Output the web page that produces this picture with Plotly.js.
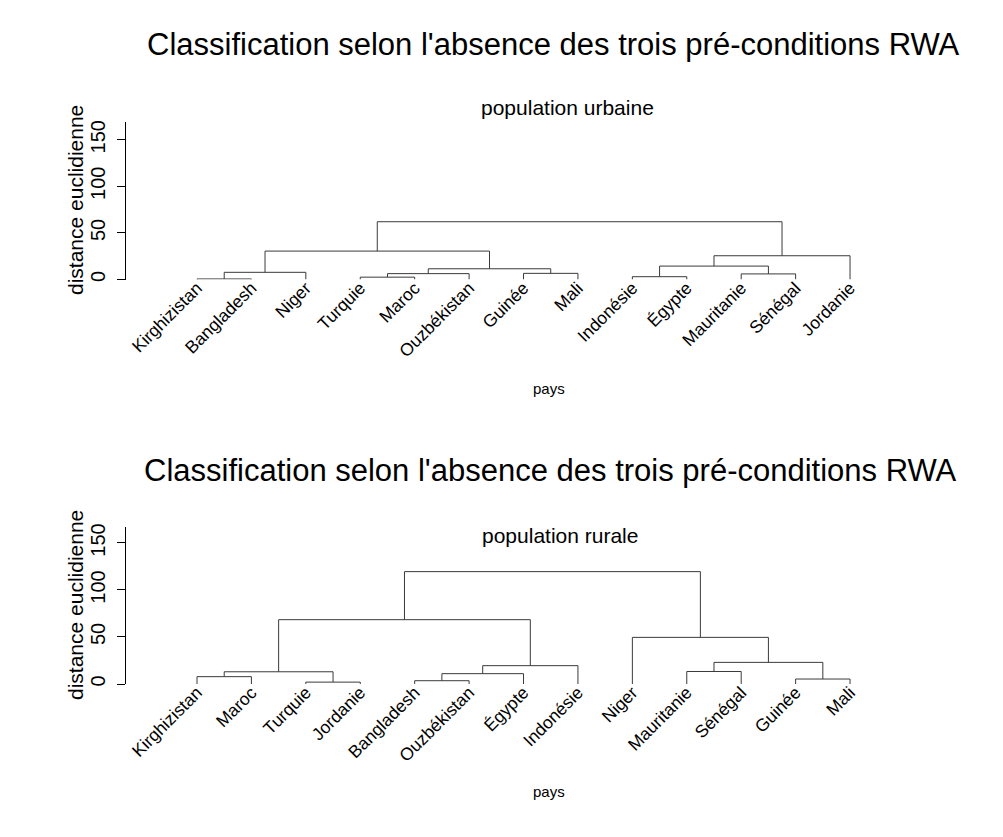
<!DOCTYPE html>
<html>
<head>
<meta charset="utf-8">
<script src="https://cdn.plot.ly/plotly-3.0.1.min.js"></script>
<style>html,body{margin:0;padding:0;background:#fff;}#chart{width:1003px;height:837px;}</style>
</head>
<body>
<div id="chart"></div>
<script>
// ---- Data (leaf order as drawn) ----
const urbanLabels = ["Kirghizistan","Bangladesh","Niger","Turquie","Maroc","Ouzbékistan","Guinée","Mali","Indonésie","Égypte","Mauritanie","Sénégal","Jordanie"];
// hclust-style merges: negative = leaf (1-based position), positive = earlier merge row
const urbanMerge = [[-1,-2],[-4,-5],[-9,-10],[-11,-12],[2,-6],[-7,-8],[1,-3],[5,6],[3,4],[9,-13],[7,8],[11,10]];
const urbanHeight = [0.6, 2.5, 3, 6, 6.3, 6.6, 7.7, 11.5, 14.4, 25.5, 30.5, 62];

const ruralLabels = ["Kirghizistan","Maroc","Turquie","Jordanie","Bangladesh","Ouzbékistan","Égypte","Indonésie","Niger","Mauritanie","Sénégal","Guinée","Mali"];
const ruralMerge = [[-3,-4],[-5,-6],[-12,-13],[-1,-2],[2,-7],[4,1],[-10,-11],[5,-8],[7,3],[-9,9],[6,8],[11,10]];
const ruralHeight = [2, 3.5, 5.3, 7.8, 11, 13, 13.3, 19.5, 23, 49.6, 68.4, 119.5];

const yTicks = [0, 50, 100, 150];
const mainTitle = "Classification selon l'absence des trois pré-conditions RWA";
const subUrban = "population urbaine";
const subRural = "population rurale";
const yTitle = "distance euclidienne";
const xTitle = "pays";

// ---- Build dendrogram segments ----
function dendro(merge, height) {
  const pos = [], hh = [], xs = [], ys = [];
  const coord = r => r < 0 ? [-r, 0] : [pos[r-1], hh[r-1]];
  merge.forEach((m, k) => {
    const [xa, ya] = coord(m[0]);
    const [xb, yb] = coord(m[1]);
    const H = height[k];
    xs.push(xa, xa, xb, xb, null);
    ys.push(ya, H, H, yb, null);
    pos.push((xa + xb) / 2); hh.push(H);
  });
  return {xs, ys};
}
const du = dendro(urbanMerge, urbanHeight);
const dr = dendro(ruralMerge, ruralHeight);

const W = 1003, Hh = 837;
const FONT = "Liberation Sans, Arial, Helvetica, sans-serif";
const px = v => v / W, py = v => 1 - v / Hh;

const lineStyle = {color: '#3a3a3a', width: 1};
const traces = [
  {x: du.xs, y: du.ys, mode: 'lines', line: lineStyle, xaxis: 'x', yaxis: 'y', hoverinfo: 'skip', showlegend: false},
  {x: dr.xs, y: dr.ys, mode: 'lines', line: lineStyle, xaxis: 'x2', yaxis: 'y2', hoverinfo: 'skip', showlegend: false}
];

const xRange = [1 - 71/54.42, 1 + 724/54.42];
function xAxis(labels, anchor) {
  return {
    domain: [px(126), px(921)], range: xRange, anchor: anchor,
    tickmode: 'array', tickvals: labels.map((_, i) => i + 1), ticktext: labels,
    tickangle: -45, ticks: '', showline: false, showgrid: false, zeroline: false,
    tickfont: {family: FONT, size: 17.5, color: '#000'}, ticklabelstandoff: -6
  };
}
function yAxis(domain, range, anchor) {
  return {
    domain: domain, range: range, anchor: anchor,
    tickmode: 'array', tickvals: yTicks, ticktext: yTicks.map(String),
    tickangle: -90, ticks: 'outside', ticklen: 8, tickwidth: 1, tickcolor: '#000',
    showline: true, linecolor: '#000', linewidth: 1, showgrid: false, zeroline: false,
    tickfont: {family: FONT, size: 20, color: '#000'}, ticklabelstandoff: 4
  };
}

const ann = (text, x, y, size, extra) => Object.assign({
  text: text, x: px(x), y: py(y), xref: 'paper', yref: 'paper', showarrow: false,
  xanchor: 'center', yanchor: 'middle', font: {family: FONT, size: size, color: '#000'}
}, extra || {});

const layout = {
  width: W, height: Hh, margin: {l: 0, r: 0, t: 0, b: 0},
  paper_bgcolor: '#fff', plot_bgcolor: '#fff', showlegend: false,
  xaxis: xAxis(urbanLabels, 'y'),
  yaxis: yAxis([py(279.5), py(122)], [0, 169], 'x'),
  xaxis2: xAxis(ruralLabels, 'y2'),
  yaxis2: yAxis([py(684), py(526.5)], [0, 167.5], 'x2'),
  annotations: [
    ann(mainTitle, 553, 45, 31),
    ann(subUrban, 567, 107, 21),
    ann(yTitle, 75, 200, 21, {textangle: -90}),
    ann(xTitle, 549, 388, 15),
    ann(mainTitle, 550, 470, 31),
    ann(subRural, 560, 535, 21),
    ann(yTitle, 75, 605, 21, {textangle: -90}),
    ann(xTitle, 549, 791, 15)
  ]
};

Plotly.newPlot('chart', traces, layout, {displayModeBar: false, staticPlot: true});
</script>
</body>
</html>
